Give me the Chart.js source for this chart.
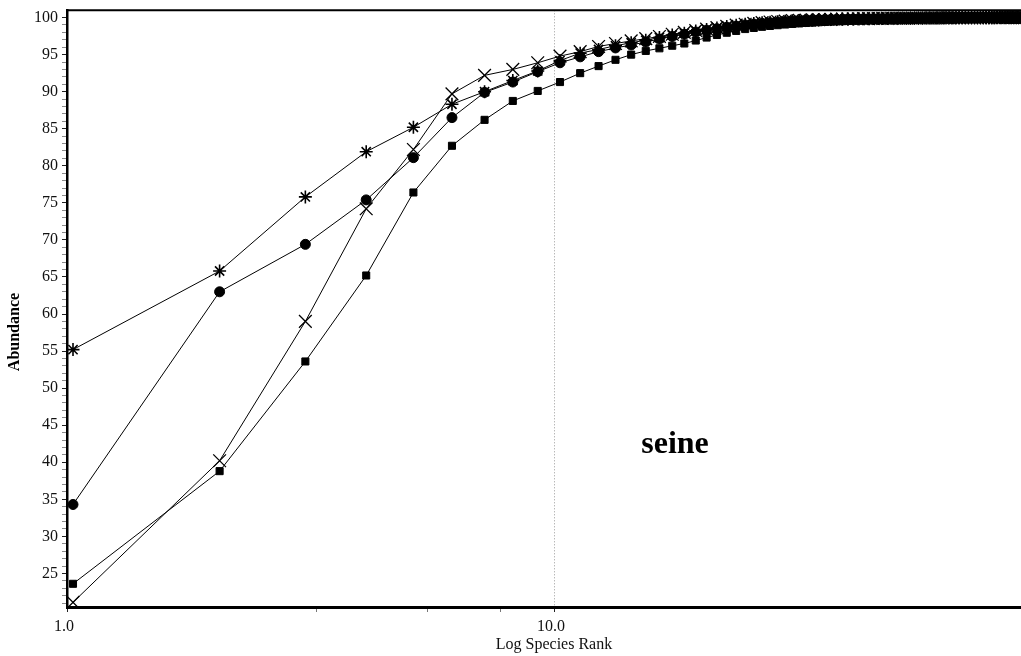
<!DOCTYPE html>
<html>
<head>
<meta charset="utf-8">
<script src="https://cdn.jsdelivr.net/npm/chart.js@4.4.1/dist/chart.umd.min.js"></script>
<style>
  html, body { margin: 0; padding: 0; background: #fff; overflow: hidden; width: 1021px; height: 656px; }
  canvas { display: block; }
</style>
</head>
<body>
<canvas id="chart" width="1060" height="656"></canvas>
<script>
// Species rank (x) for every k-dominance curve
const ranks = [
  1, 2, 3, 4, 5, 6, 7, 8, 9, 10,
  11, 12, 13, 14, 15, 16, 17, 18, 19, 20,
  21, 22, 23, 24, 25, 26, 27, 28, 29, 30,
  31, 32, 33, 34, 35, 36, 37, 38, 39, 40,
  41, 42, 43, 44, 45, 46, 47, 48, 49, 50,
  51, 52, 53, 54, 55, 56, 57, 58, 59, 60,
  61, 62, 63, 64, 65, 66, 67, 68, 69, 70,
  71, 72, 73, 74, 75, 76, 77, 78, 79, 80,
  81, 82, 83, 84, 85, 86, 87, 88, 89, 90
];

// Cumulative abundance (%) per sample
const starSeries = [
  55.2, 65.8, 75.8, 81.9, 85.2, 88.3, 90.0, 91.5, 92.8, 94.2,
  95.2, 95.7, 96.2, 96.6, 96.95, 97.3, 97.65, 97.9, 98.2, 98.4,
  98.6, 98.8, 98.95, 99.1, 99.2, 99.3, 99.38, 99.45, 99.51, 99.56,
  99.6, 99.64, 99.67, 99.7, 99.73, 99.75, 99.77, 99.79, 99.81, 99.82,
  99.83, 99.84, 99.85, 99.86, 99.87, 99.88, 99.89, 99.9, 99.9, 99.91,
  99.91, 99.92, 99.92, 99.93, 99.93, 99.94, 99.94, 99.95, 99.95, 99.95,
  99.96, 99.96, 99.96, 99.97, 99.97, 99.97, 99.97, 99.98, 99.98, 99.98,
  99.98, 99.98, 99.99, 99.99, 99.99, 99.99, 99.99, 99.99, 100, 100,
  100, 100, 100, 100, 100, 100, 100, 100, 100, 100
];
const circleSeries = [
  34.3, 63.0, 69.4, 75.4, 81.1, 86.5, 89.9, 91.3, 92.7, 93.9,
  94.7, 95.4, 95.9, 96.3, 96.7, 97.1, 97.45, 97.75, 98.05, 98.3,
  98.5, 98.7, 98.85, 99.0, 99.12, 99.22, 99.31, 99.39, 99.46, 99.52,
  99.57, 99.61, 99.65, 99.68, 99.71, 99.73, 99.75, 99.77, 99.79, 99.81,
  99.82, 99.83, 99.84, 99.85, 99.86, 99.87, 99.88, 99.89, 99.9, 99.9,
  99.91, 99.91, 99.92, 99.92, 99.93, 99.93, 99.94, 99.94, 99.95, 99.95,
  99.95, 99.96, 99.96, 99.96, 99.97, 99.97, 99.97, 99.97, 99.98, 99.98,
  99.98, 99.98, 99.98, 99.99, 99.99, 99.99, 99.99, 99.99, 99.99, 100,
  100, 100, 100, 100, 100, 100, 100, 100, 100, 100
];
const crossSeries = [
  21.1, 40.2, 59.0, 74.2, 82.2, 89.7, 92.2, 93.0, 93.9, 94.8,
  95.4, 96.1, 96.5, 96.85, 97.15, 97.45, 97.75, 98.0, 98.25, 98.45,
  98.65, 98.82, 98.97, 99.1, 99.21, 99.31, 99.4, 99.47, 99.53, 99.58,
  99.62, 99.66, 99.69, 99.72, 99.74, 99.76, 99.78, 99.8, 99.81, 99.83,
  99.84, 99.85, 99.86, 99.87, 99.88, 99.89, 99.89, 99.9, 99.91, 99.91,
  99.92, 99.92, 99.93, 99.93, 99.94, 99.94, 99.94, 99.95, 99.95, 99.96,
  99.96, 99.96, 99.96, 99.97, 99.97, 99.97, 99.98, 99.98, 99.98, 99.98,
  99.98, 99.99, 99.99, 99.99, 99.99, 99.99, 99.99, 100, 100, 100,
  100, 100, 100, 100, 100, 100, 100, 100, 100, 100
];
const squareSeries = [
  23.6, 38.8, 53.6, 65.2, 76.4, 82.7, 86.2, 88.75, 90.1, 91.3,
  92.5, 93.45, 94.3, 95.0, 95.5, 95.85, 96.2, 96.5, 96.9, 97.3,
  97.65, 97.95, 98.2, 98.45, 98.6, 98.75, 98.87, 98.97, 99.06, 99.14,
  99.21, 99.27, 99.32, 99.37, 99.41, 99.45, 99.48, 99.51, 99.54, 99.56,
  99.58, 99.6, 99.62, 99.64, 99.65, 99.67, 99.68, 99.69, 99.7, 99.71,
  99.72, 99.73, 99.74, 99.75, 99.76, 99.77, 99.78, 99.79, 99.8, 99.81,
  99.82, 99.83, 99.84, 99.85, 99.86, 99.87, 99.88, 99.88, 99.89, 99.9,
  99.91, 99.92, 99.92, 99.93, 99.94, 99.95, 99.95, 99.96, 99.97, 99.97,
  99.98, 99.98, 99.99, 99.99, 99.99, 100, 100, 100, 100, 100
];

// Axis ticks
const rankTickValues = [0.972, 3.159, 5.346, 7.533, 9.72];
const rankTickLabels = ['1.0', '', '', '', '10.0'];
const abundanceTickValues = [
  21, 22, 23, 24, 25, 26, 27, 28, 29, 30, 31, 32, 33, 34, 35, 36, 37, 38, 39, 40,
  41, 42, 43, 44, 45, 46, 47, 48, 49, 50, 51, 52, 53, 54, 55, 56, 57, 58, 59, 60,
  61, 62, 63, 64, 65, 66, 67, 68, 69, 70, 71, 72, 73, 74, 75, 76, 77, 78, 79, 80,
  81, 82, 83, 84, 85, 86, 87, 88, 89, 90, 91, 92, 93, 94, 95, 96, 97, 98, 99, 100
];
const sampleName = 'seine';

const FONT = '"Liberation Serif", "Times New Roman", serif';

function pairs(values) {
  return values.map((v, i) => ({ x: ranks[i], y: v }));
}

function series(values, style, radius, filled, borderWidth) {
  return {
    data: pairs(values),
    borderColor: '#000',
    borderWidth: 1,
    backgroundColor: '#000',
    pointStyle: style,
    pointRadius: radius,
    pointHoverRadius: radius,
    pointBackgroundColor: filled ? '#000' : 'rgba(0,0,0,0)',
    pointBorderColor: '#000',
    pointBorderWidth: borderWidth,
    fill: false,
    tension: 0
  };
}

const frameAndText = {
  id: 'frameAndText',
  afterDraw(chart) {
    const { ctx, chartArea } = chart;
    ctx.save();
    // top frame line
    ctx.strokeStyle = '#000';
    ctx.lineWidth = 2;
    ctx.beginPath();
    ctx.moveTo(chartArea.left, chartArea.top);
    ctx.lineTo(chartArea.right, chartArea.top);
    ctx.stroke();

    // sample name
    ctx.fillStyle = '#000';
    ctx.font = 'bold 32px ' + FONT;
    ctx.textAlign = 'center';
    ctx.textBaseline = 'middle';
    ctx.fillText(sampleName, chartArea.left + 608, 445);

    // y axis title
    ctx.font = 'bold 16px ' + FONT;
    ctx.translate(15, 332);
    ctx.rotate(-Math.PI / 2);
    ctx.fillText('Abundance', 0, 0);
    ctx.restore();
  }
};

new Chart(document.getElementById('chart'), {
  type: 'line',
  data: {
    datasets: [
      series(squareSeries, 'rect', 5, true, 1),
      series(crossSeries, 'crossRot', 9, false, 1.3),
      series(circleSeries, 'circle', 5, true, 1),
      series(starSeries, 'star', 6.5, false, 1.6)
    ]
  },
  options: {
    responsive: false,
    animation: false,
    events: [],
    layout: { padding: { left: 0, top: 8, right: 19, bottom: 0 } },
    plugins: { legend: { display: false }, tooltip: { enabled: false } },
    scales: {
      x: {
        type: 'logarithmic',
        position: 'bottom',
        min: 0.972,
        max: 97.2,
        afterBuildTicks(scale) {
          scale.ticks = rankTickValues.map(v => ({ value: v }));
        },
        afterFit(scale) {
          scale.height = 49;
          scale.paddingLeft = 0;
          scale.paddingRight = 0;
        },
        ticks: {
          autoSkip: false,
          maxRotation: 0,
          padding: 5,
          labelOffset: -3,
          color: '#111',
          font: { family: FONT, size: 16 },
          callback(value, index) { return rankTickLabels[index]; }
        },
        grid: {
          drawOnChartArea: true,
          drawTicks: true,
          tickLength: 5,
          lineWidth: 1,
          color(ctx) { return ctx.index === rankTickValues.length - 1 ? '#9a9a9a' : 'rgba(0,0,0,0)'; },
          tickColor(ctx) { return (ctx.index === 0 || ctx.index === rankTickValues.length - 1) ? '#222' : '#777'; }
        },
        border: { display: true, color: '#000', width: 3, dash: [1, 2] },
        title: {
          display: true,
          text: 'Log Species Rank',
          color: '#111',
          font: { family: FONT, size: 16 },
          padding: { top: 0, bottom: 2 }
        }
      },
      y: {
        type: 'linear',
        min: 20.47,
        max: 100.98,
        afterBuildTicks(scale) {
          scale.ticks = abundanceTickValues.map(v => ({ value: v }));
        },
        afterFit(scale) {
          scale.width = 67;
          scale.paddingTop = 0;
          scale.paddingBottom = 0;
        },
        ticks: {
          autoSkip: false,
          padding: 4,
          color: '#111',
          font: { family: FONT, size: 16, lineHeight: 1 },
          callback(value) { return value % 5 === 0 ? String(value) : ''; }
        },
        grid: {
          drawOnChartArea: false,
          drawTicks: true,
          tickLength: 5,
          tickColor(ctx) { return ctx.tick && ctx.tick.value % 5 === 0 ? '#222' : '#8a8a8a'; }
        },
        border: { display: true, color: '#000', width: 2.5 }
      }
    }
  },
  plugins: [frameAndText]
});
</script>
</body>
</html>
